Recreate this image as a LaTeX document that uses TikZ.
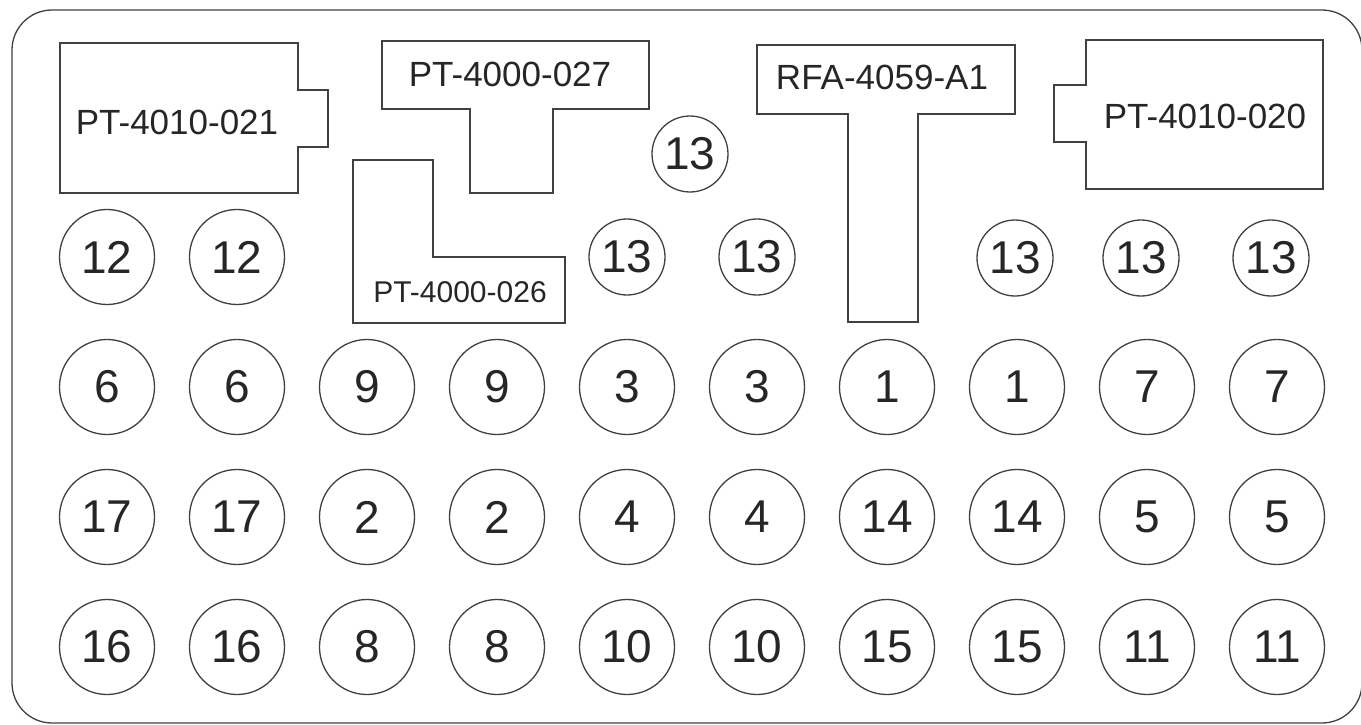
\documentclass[tikz,border=0pt]{standalone}
\usepackage{fontspec}
\setmainfont{Liberation Sans}
\usetikzlibrary{positioning}

\begin{document}
\begin{tikzpicture}[x=1pt,y=-1pt,
  outline/.style={draw=black!75,line width=1.3pt,line join=miter},
  hole/.style={circle,draw=black!75,line width=1.3pt,minimum size=95pt,inner sep=0pt,font=\fontsize{46}{50}\selectfont,text=black!85},
  smallhole/.style={hole,minimum size=76pt},
  tag/.style={inner sep=0pt,font=\fontsize{35}{40}\selectfont,text=black!85}]
\useasboundingbox (0,0) rectangle (1361,725);

\draw[outline,rounded corners=40pt] (12,10) rectangle (1362,723);

% parts
\draw[outline] (60,43) -- (298,43) -- (298,90) -- (328,90) -- (328,147) -- (298,147) -- (298,193) -- (60,193) -- cycle;
\node[tag] (t021) at (177,122) {PT-4010-021};
\draw[outline] (382,41) -- (649,41) -- (649,109) -- (553,109) -- (553,193) -- (470,193) -- (470,109) -- (382,109) -- cycle;
\node[tag] (t027) at (510,74) {PT-4000-027};
\draw[outline] (353,160) -- (433,160) -- (433,257) -- (565,257) -- (565,323) -- (353,323) -- cycle;
\node[tag,font=\fontsize{30}{34}\selectfont] (t026) at (460,292) {PT-4000-026};
\draw[outline] (757,45) -- (1015,45) -- (1015,114) -- (918,114) -- (918,322) -- (848,322) -- (848,114) -- (757,114) -- cycle;
\node[tag] (ta1) at (882,77) {RFA-4059-A1};
\draw[outline] (1086,40) -- (1323,40) -- (1323,189) -- (1086,189) -- (1086,142) -- (1054,142) -- (1054,85) -- (1086,85) -- cycle;
\node[tag] (t020) at (1205,116) {PT-4010-020};

% row 1
\node[smallhole] (h13t) at (690,154) {13};
\node[hole] (h12a) at (107,257) {12};
\node[hole] (h12b) at (237,257) {12};
\node[smallhole] (h13a) at (627,257) {13};
\node[smallhole] (h13b) at (757,257) {13};
\node[smallhole] (h13c) at (1015,258) {13};
\node[smallhole] (h13d) at (1141,258) {13};
\node[smallhole] (h13e) at (1271,258) {13};

% row 2
\node[hole] (h6a) at (107,387) {6};
\node[hole] (h6b) at (237,387) {6};
\node[hole] (h9a) at (367,387) {9};
\node[hole] (h9b) at (497,387) {9};
\node[hole] (h3a) at (627,387) {3};
\node[hole] (h3b) at (757,387) {3};
\node[hole] (h1a) at (887,387) {1};
\node[hole] (h1b) at (1017,387) {1};
\node[hole] (h7a) at (1147,387) {7};
\node[hole] (h7b) at (1277,387) {7};

% row 3
\node[hole] (h17a) at (107,517) {17};
\node[hole] (h17b) at (237,517) {17};
\node[hole] (h2a) at (367,517) {2};
\node[hole] (h2b) at (497,517) {2};
\node[hole] (h4a) at (627,517) {4};
\node[hole] (h4b) at (757,517) {4};
\node[hole] (h14a) at (887,517) {14};
\node[hole] (h14b) at (1017,517) {14};
\node[hole] (h5a) at (1147,517) {5};
\node[hole] (h5b) at (1277,517) {5};

% row 4
\node[hole] (h16a) at (107,647) {16};
\node[hole] (h16b) at (237,647) {16};
\node[hole] (h8a) at (367,647) {8};
\node[hole] (h8b) at (497,647) {8};
\node[hole] (h10a) at (627,647) {10};
\node[hole] (h10b) at (757,647) {10};
\node[hole] (h15a) at (887,647) {15};
\node[hole] (h15b) at (1017,647) {15};
\node[hole] (h11a) at (1147,647) {11};
\node[hole] (h11b) at (1277,647) {11};

\end{tikzpicture}
\end{document}
